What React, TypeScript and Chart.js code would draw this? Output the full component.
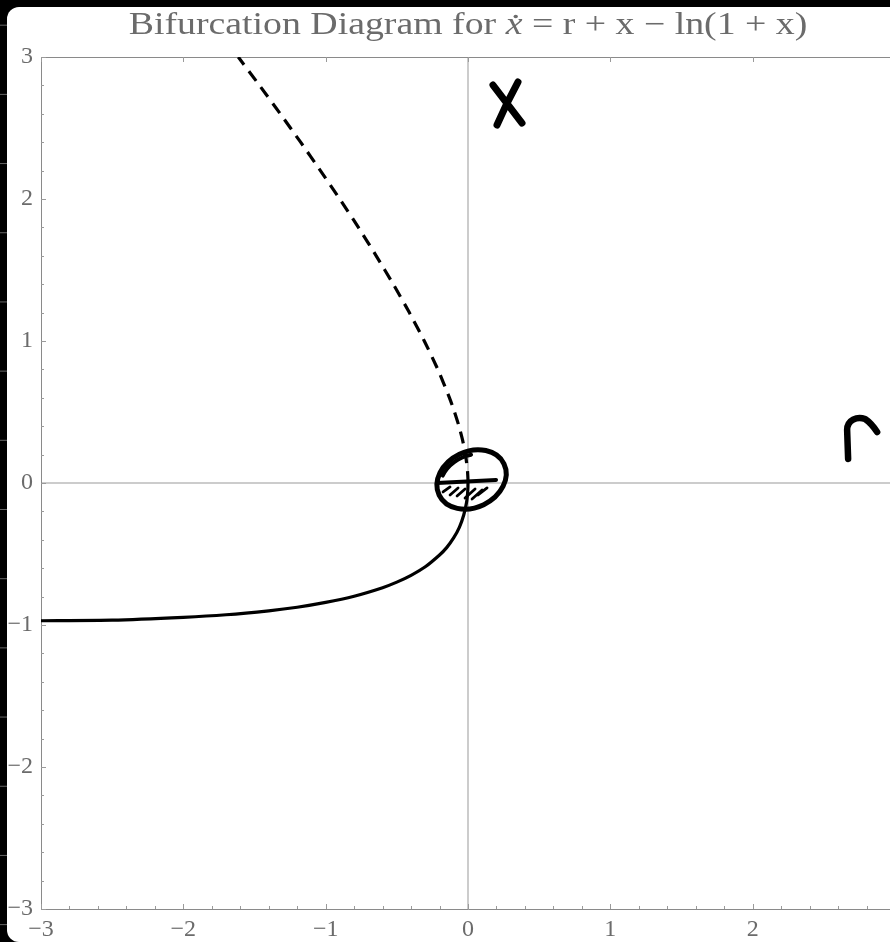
import React, { useEffect, useRef } from "react";
import { Chart, registerables } from "chart.js";

Chart.register(...registerables);

// Stable branch of fixed points (r, x), x < 0
const STABLE_R = [-3.0, -2.5, -2.0, -1.7, -1.4, -1.2, -1.0, -0.8, -0.6, -0.5, -0.4, -0.3, -0.2, -0.15, -0.1, -0.06, -0.03, -0.01, -0.003, -0.0005, 0];
const STABLE_X = [-0.97, -0.966, -0.946, -0.928, -0.9, -0.875, -0.841, -0.797, -0.737, -0.698, -0.65, -0.59, -0.507, -0.455, -0.385, -0.31, -0.225, -0.135, -0.075, -0.032, 0];

// Unstable branch of fixed points (r, x), x > 0
const UNSTABLE_R = [0, -0.0005, -0.003, -0.0047, -0.0177, -0.0376, -0.0635, -0.0945, -0.13, -0.212, -0.307, -0.412, -0.525, -0.645, -0.77, -0.901, -1.037, -1.176, -1.319, -1.465, -1.614];
const UNSTABLE_X = [0, 0.032, 0.078, 0.1, 0.2, 0.3, 0.4, 0.5, 0.6, 0.8, 1.0, 1.2, 1.4, 1.6, 1.8, 2.0, 2.2, 2.4, 2.6, 2.8, 3.0];

// Axis ranges and labelled ticks
const R_TICKS = [-3, -2, -1, 0, 1, 2];
const X_TICKS = [-3, -2, -1, 0, 1, 2, 3];
const R_RANGE = [-3, 3];
const X_RANGE = [-3, 3];

// Hand-drawn marks, anchored in data coordinates (r, x)
const CIRCLE_AT = [0.025, 0.025];
const LABEL_X_AT = [0.281, 2.669];
const LABEL_R_AT = [2.769, 0.303];

const SERIF = '"Liberation Serif", "Times New Roman", serif';
const GRAY = "#6b6b6b";

const fmt = (v: number) => (v < 0 ? "\u2212" + Math.abs(v) : String(v));

const framePlugin = {
  id: "frame",
  beforeDatasetsDraw(chart: any) {
    const { ctx, chartArea: a, scales } = chart;
    const sx = scales.x;
    const sy = scales.y;
    ctx.save();
    // zero axes
    ctx.strokeStyle = "#cccccc";
    ctx.lineWidth = 2;
    const x0 = Math.round(sx.getPixelForValue(0));
    const y0 = Math.round(sy.getPixelForValue(0));
    ctx.beginPath();
    ctx.moveTo(x0, a.top);
    ctx.lineTo(x0, a.bottom);
    ctx.moveTo(a.left, y0);
    ctx.lineTo(a.right, y0);
    ctx.stroke();

    // frame
    ctx.strokeStyle = "#8a8a8a";
    ctx.lineWidth = 1;
    ctx.beginPath();
    ctx.moveTo(a.left + 0.5, a.top + 0.5);
    ctx.lineTo(a.right, a.top + 0.5);
    ctx.moveTo(a.left + 0.5, a.top);
    ctx.lineTo(a.left + 0.5, a.bottom + 0.5);
    ctx.lineTo(a.right, a.bottom + 0.5);
    ctx.stroke();

    // inward frame ticks (major every 1, minor every 0.2)
    ctx.strokeStyle = "#9a9a9a";
    ctx.beginPath();
    for (let i = -15; i <= 15; i++) {
      const v = i / 5;
      const major = i % 5 === 0;
      const len = major ? 5 : 3;
      const px = Math.round(sx.getPixelForValue(v)) + 0.5;
      const py = Math.round(sy.getPixelForValue(v)) + 0.5;
      ctx.moveTo(px, a.bottom);
      ctx.lineTo(px, a.bottom - len);
      ctx.moveTo(a.left, py);
      ctx.lineTo(a.left + len, py);
      if (major) {
        ctx.moveTo(px, a.top);
        ctx.lineTo(px, a.top + len);
      }
    }
    ctx.stroke();
    ctx.restore();
  },
  afterDatasetsDraw(chart: any) {
    const { ctx, chartArea: a, scales } = chart;
    const sx = scales.x;
    const sy = scales.y;
    const at = (p: number[]) => [sx.getPixelForValue(p[0]), sy.getPixelForValue(p[1])];

    ctx.save();
    ctx.strokeStyle = "#000";
    ctx.lineCap = "round";
    ctx.lineJoin = "round";

    // circled fold point
    const [cx, cy] = at(CIRCLE_AT);
    ctx.lineWidth = 5;
    ctx.beginPath();
    ctx.ellipse(cx, cy, 36, 28, -0.45, 0, Math.PI * 2);
    ctx.stroke();
    ctx.lineWidth = 4;
    ctx.beginPath();
    ctx.ellipse(cx + 1, cy + 3, 34, 27, -0.45, -2.35, -1.25);
    ctx.stroke();
    ctx.lineWidth = 4;
    ctx.beginPath();
    ctx.moveTo(cx - 34.5, cy + 3.5);
    ctx.lineTo(cx + 24.5, cy + 0.5);
    ctx.stroke();
    ctx.lineWidth = 2.8;
    const hatch = [
      [-28.5, 12.5, -21.5, 7.5],
      [-21.5, 15.5, -13.5, 8.5],
      [-14.5, 16.5, -6.5, 9.5],
      [-6.5, 18.5, 3.5, 9.5],
      [0.5, 19.5, 10.5, 10.5],
      [6.5, 15.5, 15.5, 8.5],
    ];
    ctx.beginPath();
    hatch.forEach(([x1, y1, x2, y2]) => {
      ctx.moveTo(cx + x1, cy + y1);
      ctx.lineTo(cx + x2, cy + y2);
    });
    ctx.stroke();

    // hand-written "x" axis name
    const [xx, xy] = at(LABEL_X_AT);
    ctx.lineWidth = 7;
    ctx.beginPath();
    ctx.moveTo(xx - 15, xy - 19);
    ctx.quadraticCurveTo(xx - 2, xy - 2, xx + 14, xy + 19);
    ctx.moveTo(xx + 10, xy - 22);
    ctx.quadraticCurveTo(xx - 2, xy, xx - 11, xy + 21);
    ctx.stroke();

    // hand-written "r" axis name
    const [rx, ry] = at(LABEL_R_AT);
    ctx.lineWidth = 6.5;
    ctx.beginPath();
    ctx.moveTo(rx - 14, ry + 19);
    ctx.lineTo(rx - 15, ry - 10);
    ctx.bezierCurveTo(rx - 15, ry - 20, rx - 5, ry - 24, rx + 3, ry - 21);
    ctx.quadraticCurveTo(rx + 9, ry - 17, rx + 15, ry - 8);
    ctx.stroke();

    // title with italic dotted x, set in a slightly widened serif
    const parts: [string, boolean][] = [
      ["Bifurcation Diagram for ", false],
      ["x", true],
      [" = r + x \u2212 ln(1 + x)", false],
    ];
    const size = 31;
    const stretch = 1.22;
    const fontOf = (it: boolean) => (it ? "italic " : "") + size + "px " + SERIF;
    let total = 0;
    const widths = parts.map(([t, it]) => {
      ctx.font = fontOf(it);
      const w = ctx.measureText(t).width;
      total += w;
      return w;
    });
    const base = 34;
    ctx.translate((a.left + a.right) / 2 - (total * stretch) / 2, base);
    ctx.scale(stretch, 1);
    ctx.fillStyle = GRAY;
    ctx.textBaseline = "alphabetic";
    ctx.textAlign = "left";
    let tx = 0;
    parts.forEach(([t, it], i) => {
      ctx.font = fontOf(it);
      ctx.fillText(t, tx, 0);
      if (it) {
        ctx.beginPath();
        ctx.arc(tx + widths[i] * 0.6, -17.5, 1.8, 0, Math.PI * 2);
        ctx.fill();
      }
      tx += widths[i];
    });
    ctx.restore();
  },
};

export default function App() {
  const ref = useRef<HTMLCanvasElement | null>(null);

  useEffect(() => {
    if (!ref.current) return;
    const stable = STABLE_R.map((r, i) => ({ x: r, y: STABLE_X[i] }));
    const unstable = UNSTABLE_R.map((r, i) => ({ x: r, y: UNSTABLE_X[i] }));
    const tickFont = { family: SERIF, size: 24 };
    const chart = new Chart(ref.current, {
      type: "scatter",
      data: {
        datasets: [
          {
            label: "stable",
            data: stable,
            showLine: true,
            borderColor: "#000",
            borderWidth: 3.2,
            pointRadius: 0,
            tension: 0.2,
          },
          {
            label: "unstable",
            data: unstable,
            showLine: true,
            borderColor: "#000",
            borderWidth: 3.2,
            borderDash: [12, 8],
            pointRadius: 0,
            tension: 0.2,
          },
        ],
      },
      options: {
        responsive: false,
        animation: false,
        layout: { padding: { top: 57, right: 5, left: 0, bottom: 0 } },
        plugins: {
          legend: { display: false },
          title: { display: false },
          tooltip: { enabled: false },
        },
        scales: {
          x: {
            type: "linear",
            min: R_RANGE[0],
            max: R_RANGE[1],
            grid: { display: false, drawTicks: false },
            border: { display: false },
            afterBuildTicks: (s: any) => {
              s.ticks = R_TICKS.map((v) => ({ value: v }));
            },
            afterFit: (s: any) => {
              s.height = 33;
            },
            ticks: {
              autoSkip: false,
              maxRotation: 0,
              padding: 6,
              color: GRAY,
              font: tickFont,
              callback: (v: any) => fmt(Number(v)),
            },
          },
          y: {
            type: "linear",
            min: X_RANGE[0],
            max: X_RANGE[1],
            grid: { display: false, drawTicks: false },
            border: { display: false },
            afterBuildTicks: (s: any) => {
              s.ticks = X_TICKS.map((v) => ({ value: v }));
            },
            afterFit: (s: any) => {
              s.width = 41;
            },
            ticks: {
              autoSkip: false,
              padding: 8,
              color: GRAY,
              font: tickFont,
              callback: (v: any) => fmt(Number(v)),
            },
          },
        },
      },
      plugins: [framePlugin],
    });
    return () => chart.destroy();
  }, []);

  return (
    <div style={{ position: "fixed", inset: 0, background: "#000", overflow: "hidden" }}>
      <div
        style={{
          position: "absolute",
          left: 0,
          top: 0,
          width: 7,
          height: 942,
          backgroundImage: "linear-gradient(#666 0 1px, transparent 1px)",
          backgroundSize: "7px 69.2px",
          backgroundPosition: "0 24.7px",
        }}
      />
      <div
        style={{
          position: "absolute",
          left: 7,
          top: 7,
          width: 940,
          height: 935,
          background: "#fff",
          borderRadius: 12,
        }}
      />
      <canvas ref={ref} width={900} height={942} style={{ position: "absolute", left: 0, top: 0 }} />
    </div>
  );
}
